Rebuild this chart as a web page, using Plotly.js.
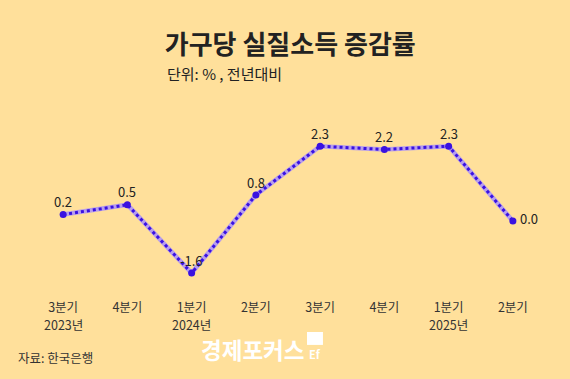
<!DOCTYPE html>
<html><head><meta charset="utf-8">
<script src="https://cdn.plot.ly/plotly-3.0.1.min.js"></script>
<style>html,body{margin:0;padding:0;background:#FFE09B;}#c{width:570px;height:379px;}</style>
</head><body><div id="c"></div>
<script>
const quarters = ["3분기","4분기","1분기","2분기","3분기","4분기","1분기","2분기"];
const years = ["2023년","","2024년","","","","2025년",""];
const values = [0.2, 0.5, -1.6, 0.8, 2.3, 2.2, 2.3, 0.0];
const labels = values.map(v => v.toFixed(1));
const idx = quarters.map((_, i) => i);
const font = "'Noto Sans CJK KR', 'Noto Sans', sans-serif";

const traces = [
  {x: idx, y: values, type: 'scatter', mode: 'lines', line: {color: 'rgba(175,150,245,0.9)', width: 4.5}, hoverinfo: 'skip'},
  {x: idx, y: values, type: 'scatter', mode: 'lines+markers', line: {color: '#3a12e0', width: 3, dash: 'dot'},
   marker: {color: '#3a12e0', size: 7}}
];

const annotations = values.map((v, i) => {
  const last = i === values.length - 1;
  return {x: i, y: v, text: labels[i], showarrow: false, xref: 'x', yref: 'y',
    xanchor: last ? 'left' : 'center', xshift: last ? 5 : 0, yshift: last ? 3 : 13,
    font: {family: font, size: 13, color: '#222'}};
});
years.forEach((yr, i) => {
  if (!yr) return;
  annotations.push({x: i, xref: 'x', yref: 'paper', y: -0.122, yanchor: 'top', text: yr, showarrow: false,
    font: {family: font, size: 12.5, color: '#333'}});
});
annotations.push(
  {xref: 'paper', yref: 'paper', xanchor: 'left', yanchor: 'middle', x: -0.029, y: -0.355, text: '자료: 한국은행', showarrow: false, font: {family: font, size: 12.5, color: '#333'}},
  {xref: 'paper', yref: 'paper', xanchor: 'left', yanchor: 'middle', x: 0.327, y: -0.31, text: '<b>경제포커스</b>', showarrow: false, font: {family: font, size: 22.5, color: '#ffffff'}},
  {xref: 'paper', yref: 'paper', xanchor: 'left', yanchor: 'top', x: 0.26, y: 1.205, text: '단위: % , 전년대비', showarrow: false, font: {family: font, size: 15, color: '#222'}},
  {xref: 'paper', yref: 'paper', xanchor: 'center', yanchor: 'middle', x: 0.553, y: -0.335, text: '<b>Ef</b>', showarrow: false, font: {family: font, size: 11, color: '#ffffff'}}
);

const layout = {
  width: 570, height: 379,
  paper_bgcolor: '#FFE09B', plot_bgcolor: '#FFE09B',
  margin: {l: 31, r: 25, t: 100, b: 89},
  showlegend: false,
  title: {text: '<b>가구당 실질소득 증감률</b>', font: {family: font, size: 26, color: '#222'}, x: 0.289, xanchor: 'left', y: 0.882, yanchor: 'middle'},
  xaxis: {type: 'linear', range: [-0.5, 7.5], tickmode: 'array', tickvals: idx, ticktext: quarters,
    showgrid: false, zeroline: false, showline: false, ticks: '', ticklabelstandoff: 8,
    tickfont: {family: font, size: 12.5, color: '#333'}, fixedrange: true},
  yaxis: {range: [-2.12, 3.72], visible: false, showgrid: false, zeroline: false, fixedrange: true},
  annotations: annotations,
  shapes: [
    {type: 'rect', xref: 'paper', yref: 'paper', x0: 0.537, x1: 0.568, y0: -0.289, y1: -0.221, fillcolor: '#ffffff', line: {width: 0}}
  ]
};

Plotly.newPlot('c', traces, layout, {displayModeBar: false, staticPlot: true});
</script>
</body></html>
